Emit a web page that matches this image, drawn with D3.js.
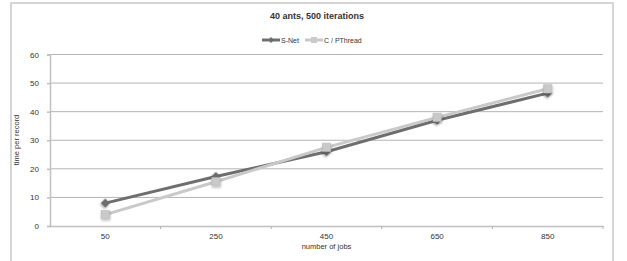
<!DOCTYPE html>
<html>
<head>
<meta charset="utf-8">
<script src="https://cdn.jsdelivr.net/npm/d3@7"></script>
<style>
  body { margin: 0; background: #fff; }
  text { font-family: "Liberation Sans", Arial, sans-serif; fill: #333; }
</style>
</head>
<body>
<svg id="chart"></svg>
<script>
var jobs = ["50", "250", "450", "650", "850"];
var snet = [8, 17.3, 26, 37, 46.5];
var pthread = [4, 15.5, 27.5, 38, 48];
var yTicks = [0, 10, 20, 30, 40, 50, 60];

var width = 627, height = 261;
var plotLeft = 50, plotRight = 603, plotTop = 54.5, plotBottom = 226;

var svg = d3.select("#chart")
  .attr("width", width)
  .attr("height", height);

// soft shadow under the markers
var filter = svg.append("defs").append("filter")
  .attr("id", "shadow")
  .attr("x", "-50%").attr("y", "-50%")
  .attr("width", "200%").attr("height", "200%");
filter.append("feDropShadow")
  .attr("dx", 0.5).attr("dy", 1.5)
  .attr("stdDeviation", 0.8)
  .attr("flood-color", "#000")
  .attr("flood-opacity", 0.3);

// outer frame
svg.append("rect")
  .attr("x", 11).attr("y", 3)
  .attr("width", 602).attr("height", 270)
  .attr("fill", "none")
  .attr("stroke", "#c8c8c8")
  .attr("stroke-width", 1.5);

var xScale = d3.scaleBand()
  .domain(jobs)
  .range([plotLeft, plotRight]);

var yScale = d3.scaleLinear()
  .domain([0, 60])
  .range([plotBottom, plotTop]);

// gridlines
svg.append("g")
  .selectAll("line")
  .data(yTicks.slice(1))
  .enter()
    .append("line")
    .attr("x1", plotLeft)
    .attr("x2", plotRight)
    .attr("y1", d => yScale(d))
    .attr("y2", d => yScale(d))
    .attr("stroke", "#b4b4b4")
    .attr("stroke-width", 1);

// y axis
var yAxis = svg.append("g")
  .attr("transform", "translate(" + plotLeft + ",0)")
  .call(d3.axisLeft(yScale).tickValues(yTicks).tickSize(3).tickPadding(8));
yAxis.selectAll("path, line").attr("stroke", "#c0c0c0").attr("stroke-width", 1.5);
yAxis.selectAll("text").style("font-size", "8px").attr("fill", "#333");

// x axis, ticks on the band boundaries
var xAxis = svg.append("g")
  .attr("transform", "translate(0," + plotBottom + ")")
  .call(d3.axisBottom(xScale).tickSize(0).tickPadding(7));
xAxis.select("path").attr("stroke", "#c0c0c0").attr("stroke-width", 1.5);
xAxis.selectAll("text").style("font-size", "8px").attr("fill", "#333");

svg.append("g")
  .selectAll("line")
  .data(jobs.slice(1).concat(["end"]))
  .enter()
    .append("line")
    .attr("x1", d => d == "end" ? plotRight : xScale(d))
    .attr("x2", d => d == "end" ? plotRight : xScale(d))
    .attr("y1", plotBottom)
    .attr("y2", plotBottom + 3)
    .attr("stroke", "#b0b0b0")
    .attr("stroke-width", 1);

// labels
svg.append("text")
  .attr("x", 317)
  .attr("y", 19)
  .style("text-anchor", "middle")
  .style("font-size", "9px")
  .style("font-weight", "bold")
  .text("40 ants, 500 iterations");

svg.append("text")
  .attr("x", (plotLeft + plotRight) / 2)
  .attr("y", 249)
  .style("text-anchor", "middle")
  .style("font-size", "7.5px")
  .text("number of jobs");

svg.append("text")
  .attr("transform", "rotate(-90)")
  .attr("x", -140)
  .attr("y", 19)
  .style("text-anchor", "middle")
  .style("font-size", "7.5px")
  .text("time per record");

var line = d3.line()
  .x((d, i) => xScale(jobs[i]) + xScale.bandwidth() / 2)
  .y(d => yScale(d));

var series = [
  { name: "S-Net", values: snet, color: "#6e6e6e", size: 36, rotate: 45 },
  { name: "C / PThread", values: pthread, color: "#c9c9c9", size: 70, rotate: 0 }
];

series.forEach(function(s) {
  svg.append("path")
    .datum(s.values)
    .attr("d", line)
    .attr("fill", "none")
    .attr("stroke", s.color)
    .attr("stroke-width", 3);

  svg.append("g")
    .selectAll("path")
    .data(s.values)
    .enter()
      .append("path")
      .attr("d", d3.symbol().type(d3.symbolSquare).size(s.size))
      .attr("transform", (d, i) => "translate(" + (xScale(jobs[i]) + xScale.bandwidth() / 2) + "," + yScale(d) + ") rotate(" + s.rotate + ")")
      .attr("fill", s.color)
      .attr("stroke", d3.color(s.color).darker(0.3))
      .attr("stroke-width", 0.5)
      .attr("filter", "url(#shadow)");
});

// legend
var legend = svg.append("g");
var legendX = [262, 305];
series.forEach(function(s, i) {
  var g = legend.append("g").attr("transform", "translate(" + legendX[i] + ",40)");
  g.append("line")
    .attr("x1", 0).attr("x2", 18)
    .attr("stroke", s.color).attr("stroke-width", 3);
  g.append("path")
    .attr("d", d3.symbol().type(d3.symbolSquare).size(s.size * 0.5))
    .attr("transform", "translate(9,0) rotate(" + s.rotate + ")")
    .attr("fill", s.color);
  g.append("text")
    .attr("x", 19)
    .attr("y", 2.5)
    .style("font-size", "7px")
    .text(s.name);
});
</script>
</body>
</html>
